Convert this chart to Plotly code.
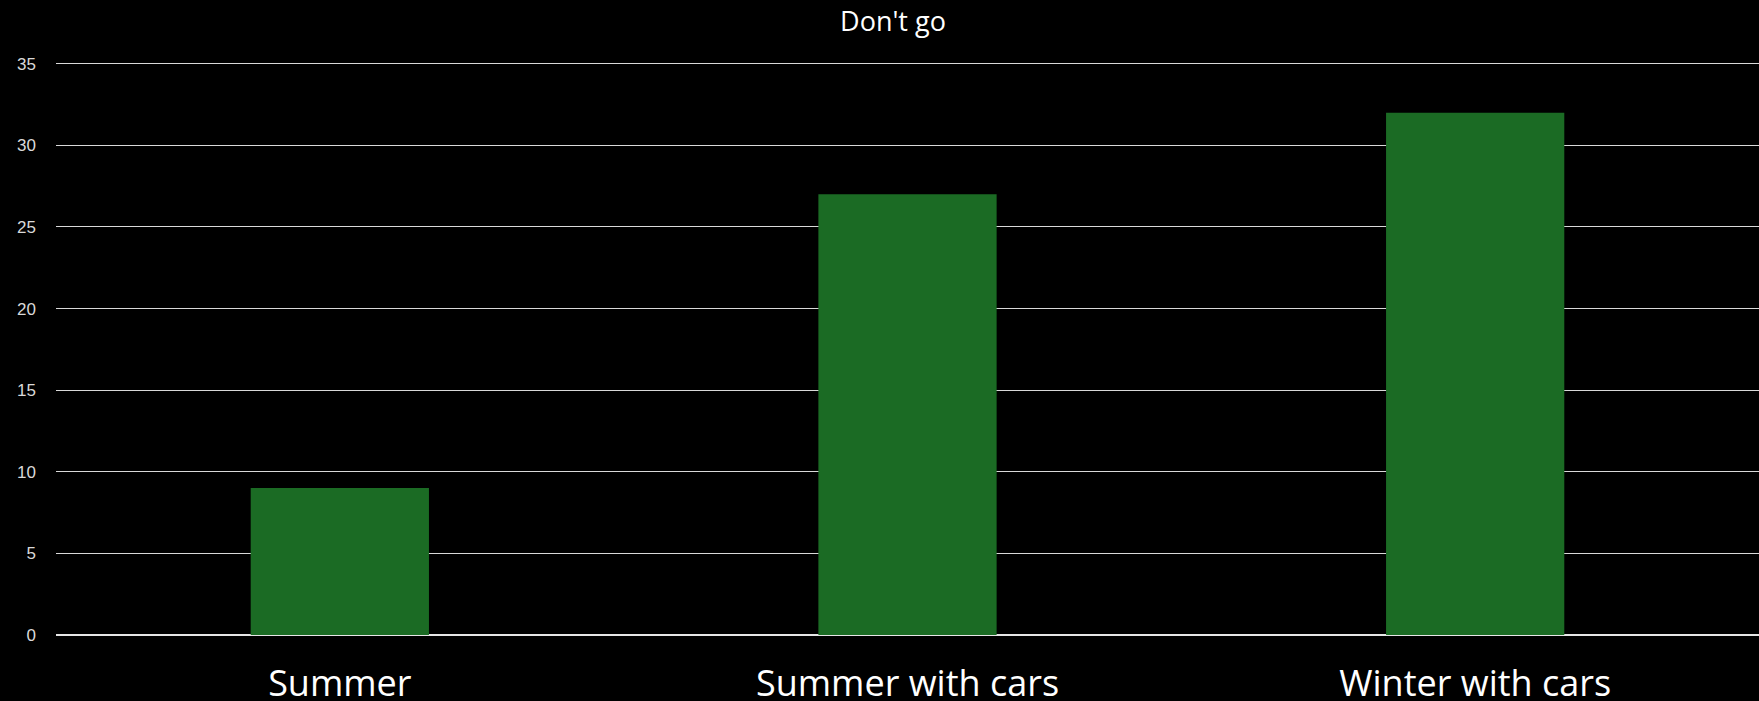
import plotly.graph_objects as go

categories = ["Summer", "Summer with cars", "Winter with cars"]
values = [9, 27, 32]
y_ticks = [0, 5, 10, 15, 20, 25, 30, 35]
title_text = "Don't go"

fig = go.Figure(
    go.Bar(
        x=categories,
        y=values,
        marker=dict(color="#1b6b24", line=dict(width=0)),
        width=0.314,
    )
)

fig.update_layout(
    width=1759,
    height=701,
    paper_bgcolor="#000000",
    plot_bgcolor="#000000",
    margin=dict(l=56, r=0, t=60, b=66),
    showlegend=False,
    title=dict(
        text=title_text,
        x=893 / 1759,
        xanchor="center",
        xref="container",
        y=1 - 22 / 701,
        yref="container",
        yanchor="middle",
        font=dict(family="Open Sans", size=27, color="#ffffff"),
    ),
)

fig.update_xaxes(
    automargin=False,
    showgrid=False,
    showline=False,
    zeroline=False,
    tickfont=dict(family="Open Sans", size=36, color="#ffffff"),
    ticklabelstandoff=24,
)

fig.update_yaxes(
    automargin=False,
    range=[0, 35.23],
    tickvals=y_ticks,
    showgrid=True,
    gridcolor="#d9d9d9",
    gridwidth=1,
    zeroline=True,
    zerolinecolor="#e6e6e6",
    zerolinewidth=2,
    showline=False,
    tickfont=dict(family="Liberation Sans", size=17, color="#d9d9d9"),
    ticklabelstandoff=19,
)

fig.write_html(
    "out.html",
    config={"displayModeBar": False},
    post_script="document.body.style.margin='0';document.body.style.background='#000';",
)
